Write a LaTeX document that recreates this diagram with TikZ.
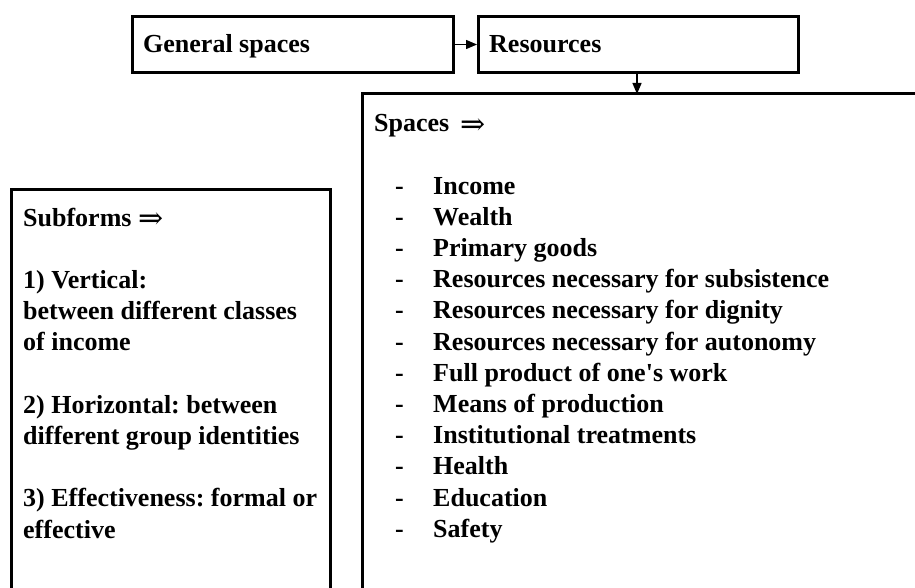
\documentclass[tikz,border=0pt]{standalone}
\usepackage{fontspec}
\setmainfont{Liberation Serif}
\newfontfamily\symfont{DejaVu Serif}
\usetikzlibrary{arrows.meta}
\frenchspacing
\newcommand{\darrow}{\raisebox{-2.5pt}{\symfont\fontsize{30}{31}\selectfont\mdseries ⇒}}
\tikzset{
  boxline/.style={draw=black, line width=3pt},
  txt/.style={anchor=base west, inner sep=0pt, font=\fontsize{26}{31}\selectfont\bfseries},
  conn/.style={line width=1.3pt, -{Triangle[length=11pt,width=9pt]}}
}
\begin{document}
\begin{tikzpicture}[x=1pt,y=-1pt]
\useasboundingbox (0,0) rectangle (915,588);
\clip (0,0) rectangle (915,588);
\fill[white] (0,0) rectangle (915,588);
% top boxes
\node[boxline, minimum width=321pt, minimum height=56pt, anchor=north west, inner sep=0pt] (gen) at (131,15) {};
\node[boxline, minimum width=320pt, minimum height=56pt, anchor=north west, inner sep=0pt] (res) at (477,15) {};
\node[txt] (gentxt) at (143,53) {General spaces};
\node[txt] (restxt) at (489,53) {Resources};
\draw[conn] (gen.east) -- (res.west);
% spaces box (cut off at right and bottom)
\coordinate (spTop) at (637,94);
\draw[boxline] (362,600) -- (362,94) -- (930,94);
\draw[conn] (res.south -| spTop) -- (spTop);
\node[txt] (sptitle) at (374,132) {Spaces\, \darrow};
\foreach \t [count=\i from 0] in {Income, Wealth, Primary goods, Resources necessary for subsistence, Resources necessary for dignity, Resources necessary for autonomy, Full product of one\textquotesingle s work, Means of production, Institutional treatments, Health, Education, Safety}{
  \node[txt] (d\i) at (395,194+31.2*\i) {-};
  \node[txt] (it\i) at (433,194+31.2*\i) {\t};
}
% subforms box (cut off at bottom)
\draw[boxline] (11,600) -- (11,190) -- (330,190) -- (330,600);
\node[txt] (s0) at (23,226) {Subforms \darrow};
\node[txt] (s2) at (23,226+31.2*2) {1) Vertical:};
\node[txt] (s3) at (23,226+31.2*3) {between different classes};
\node[txt] (s4) at (23,226+31.2*4) {of income};
\node[txt] (s6) at (23,226+31.2*6) {2) Horizontal: between};
\node[txt] (s7) at (23,226+31.2*7) {different group identities};
\node[txt] (s9) at (23,226+31.2*9) {3) Effectiveness: formal or};
\node[txt] (s10) at (23,226+31.2*10) {effective};
\end{tikzpicture}
\end{document}
